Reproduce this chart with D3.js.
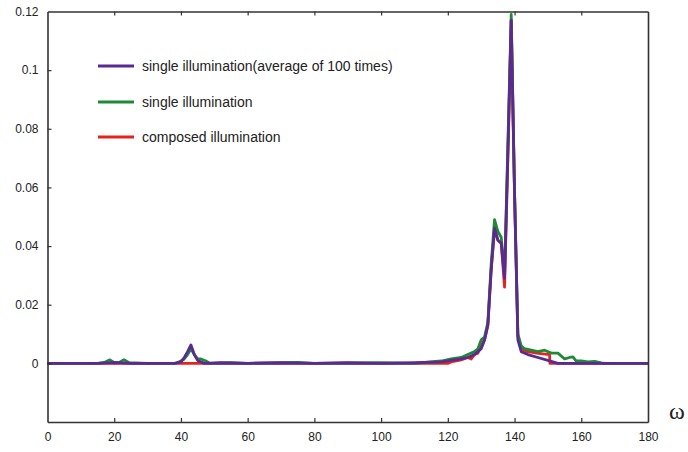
<!DOCTYPE html>
<html>
<head>
<meta charset="utf-8">
<script src="https://cdn.jsdelivr.net/npm/d3@7"></script>
<style>
  html, body { margin: 0; padding: 0; background: #fff; }
  svg { display: block; }
</style>
</head>
<body>
<svg id="chart" width="688" height="452"></svg>
<script>
// ---- data ----
const xTicks = [0, 20, 40, 60, 80, 100, 120, 140, 160, 180];
const yTicks = [0, 0.02, 0.04, 0.06, 0.08, 0.1, 0.12];
const yTickLabels = ["0", "0.02", "0.04", "0.06", "0.08", "0.1", "0.12"];
const seriesNames = ["single illumination(average of 100 times)", "single illumination", "composed illumination"];
const seriesColors = ["#5a2a92", "#1f8a35", "#e8231e"];

const omegaAvg = [0, 15, 20, 25, 38, 40, 41, 42, 43, 44, 45, 47, 52, 60, 70, 80, 90, 100, 110, 118, 121, 124, 126, 128, 129, 130, 131, 132, 133, 134, 135, 136, 137, 138, 139, 140, 141, 142, 144, 147, 150, 153, 180];
const valAvg   = [0, 0, 0.0003, 0, 0, 0.0005, 0.002, 0.004, 0.0063, 0.003, 0.001, 0, 0.0002, 0, 0.0002, 0, 0.0002, 0, 0.0002, 0.0005, 0.001, 0.0015, 0.002, 0.003, 0.004, 0.005, 0.008, 0.013, 0.032, 0.046, 0.042, 0.041, 0.029, 0.072, 0.117, 0.058, 0.008, 0.004, 0.003, 0.002, 0.001, 0, 0];

const omegaSingle = [0, 15, 17, 18.7, 20, 21.5, 22.9, 24.5, 30, 38.5, 40, 41, 42, 43, 44, 45, 46, 47.5, 48.7, 55, 60, 75, 80, 100, 110, 118, 121, 124, 126, 128, 129, 130, 131, 132, 133, 134, 135, 136, 137, 138, 139, 140, 141, 142, 143, 145, 147, 149, 151, 153, 155, 156.5, 157.5, 158.5, 160, 162, 164, 166, 167, 180];
const valSingle   = [0, 0, 0.0003, 0.0012, 0.0002, 0.0003, 0.0012, 0.0002, 0, 0, 0.0008, 0.0015, 0.003, 0.005, 0.003, 0.0015, 0.0015, 0.0008, 0, 0.0002, 0, 0.0003, 0, 0.0002, 0, 0.0008, 0.0015, 0.002, 0.003, 0.004, 0.005, 0.008, 0.009, 0.014, 0.034, 0.049, 0.045, 0.043, 0.03, 0.075, 0.119, 0.058, 0.01, 0.006, 0.005, 0.0045, 0.004, 0.0045, 0.0035, 0.0035, 0.0015, 0.002, 0.0022, 0.0008, 0.0008, 0.0005, 0.0007, 0.0002, 0, 0];

const omegaComposed = [0, 120, 121, 124, 126, 127, 128, 129, 130, 131, 132, 133, 134, 135, 136, 137, 138, 139, 140, 141, 142, 144, 146.6, 150.5, 150.6, 180];
const valComposed   = [0, 0, 0.0005, 0.0012, 0.002, 0.0015, 0.003, 0.0035, 0.006, 0.008, 0.013, 0.032, 0.046, 0.042, 0.041, 0.026, 0.07, 0.117, 0.058, 0.009, 0.005, 0.004, 0.0035, 0.003, 0, 0];

// ---- layout ----
const svg = d3.select("#chart");
const mLeft = 47.5, mRight = 648, mTop = 11.5, mBottom = 422;
const x = d3.scaleLinear().domain([0, 180]).range([mLeft, mRight]);
const y = d3.scaleLinear().domain([-0.02, 0.12]).range([mBottom, mTop]);
const axisColor = "#333";
const font = "'Liberation Sans', Arial, sans-serif";

// lines (draw red, green, purple on top)
const series = [
  { xs: omegaComposed, ys: valComposed, color: seriesColors[2] },
  { xs: omegaSingle, ys: valSingle, color: seriesColors[1] },
  { xs: omegaAvg, ys: valAvg, color: seriesColors[0] }
];
const line = d3.line().x(d => x(d[0])).y(d => y(d[1]));
series.forEach(s => {
  const pts = s.xs.map((v, i) => [v, s.ys[i]]);
  svg.append("path").datum(pts)
    .attr("d", line)
    .attr("fill", "none")
    .attr("stroke", s.color)
    .attr("stroke-width", 2.8)
    .attr("stroke-linejoin", "round");
});

// axes with inward ticks
const xb = svg.append("g").attr("transform", `translate(0,${mBottom})`)
  .call(d3.axisBottom(x).tickValues(xTicks).tickSizeInner(-4).tickSizeOuter(0).tickPadding(10));
const xt = svg.append("g").attr("transform", `translate(0,${mTop})`)
  .call(d3.axisTop(x).tickValues(xTicks).tickSizeInner(-4).tickSizeOuter(0).tickFormat(""));
const yl = svg.append("g").attr("transform", `translate(${mLeft},0)`)
  .call(d3.axisLeft(y).tickValues(yTicks).tickSizeInner(-4).tickSizeOuter(0).tickPadding(9)
    .tickFormat((d, i) => yTickLabels[i]));
const yr = svg.append("g").attr("transform", `translate(${mRight},0)`)
  .call(d3.axisRight(y).tickValues([]).tickSizeOuter(0));

[xb, xt, yl, yr].forEach(g => {
  g.select(".domain").attr("stroke", axisColor).attr("stroke-width", 1.6);
  g.selectAll(".tick line").attr("stroke", axisColor).attr("stroke-width", 1.2);
  g.selectAll(".tick text").attr("fill", "#222").style("font-family", font).style("font-size", "12px");
});
// hide ticks at frame corners
xb.selectAll(".tick").filter(d => d === 0 || d === 180).select("line").remove();
xt.selectAll(".tick").filter(d => d === 0 || d === 180).select("line").remove();
yl.selectAll(".tick").filter(d => d === 0.12).select("line").remove();

// omega label
svg.append("text").attr("x", 677).attr("y", 419)
  .attr("text-anchor", "middle")
  .style("font-family", "'Liberation Serif', 'Times New Roman', serif")
  .style("font-size", "24px").attr("fill", "#222").text("ω");

// legend
const legendY = [66, 102, 137];
seriesNames.forEach((name, i) => {
  svg.append("line").attr("x1", 98).attr("x2", 134)
    .attr("y1", legendY[i]).attr("y2", legendY[i])
    .attr("stroke", seriesColors[i]).attr("stroke-width", 2.8);
  svg.append("text").attr("x", 142).attr("y", legendY[i] + 5)
    .style("font-family", font).style("font-size", "14px").attr("fill", "#222")
    .text(name);
});
</script>
</body>
</html>
